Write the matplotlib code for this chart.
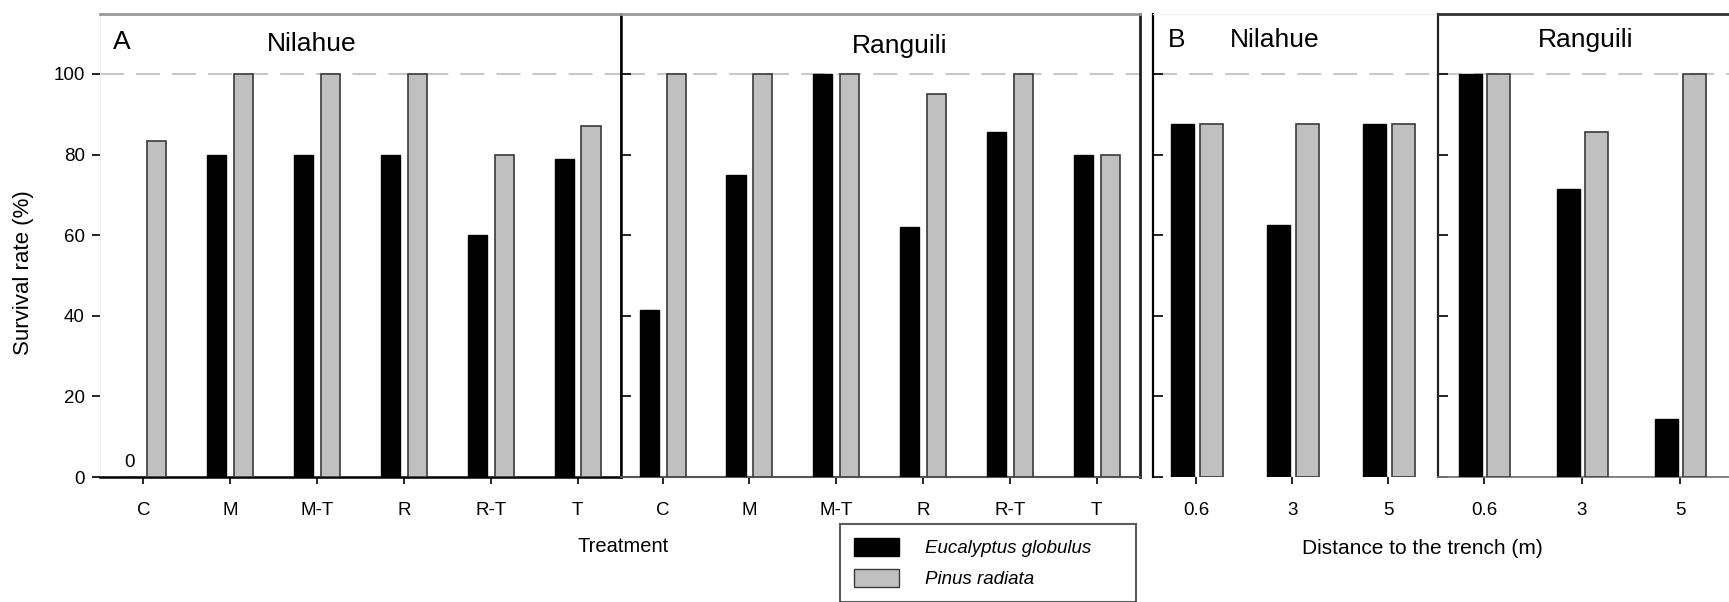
import matplotlib
matplotlib.use("Agg")
import matplotlib.pyplot as plt
from matplotlib.patches import Patch
import numpy as np

plt.rcParams['font.family'] = ['Liberation Sans', 'DejaVu Sans']

# ---------------- data ----------------
treatments = ["C", "M", "M-T", "R", "R-T", "T"]
distances = ["0.6", "3", "5"]

nil_trt_euc = [0, 80, 80, 80, 60, 79]
nil_trt_pin = [83.3, 100, 100, 100, 80, 87]
ran_trt_euc = [41.5, 75, 100, 62, 85.7, 80]
ran_trt_pin = [100, 100, 100, 95, 100, 80]

nil_dist_euc = [87.5, 62.5, 87.5]
nil_dist_pin = [87.5, 87.5, 87.5]
ran_dist_euc = [100, 71.4, 14.3]
ran_dist_pin = [100, 85.7, 100]

yticks = [0, 20, 40, 60, 80, 100]
species = ["Eucalyptus globulus", "Pinus radiata"]

# ---------------- layout ----------------
W, H = 1729, 602
fig = plt.figure(figsize=(W / 100, H / 100), dpi=100)
Y0, Y1 = 477, 13.5


def make_ax(x0, x1):
    return fig.add_axes([x0 / W, 1 - Y0 / H, (x1 - x0) / W, (Y0 - Y1) / H])


BLACK = "black"
GREY = "#c0c0c0"
PEDGE = "#3a3a3a"
TICK_FS = 13.5


def draw(ax, cats, euc, pin, off_e, off_p, width):
    x = np.arange(len(cats))
    ax.bar(x + off_e, euc, width, color=BLACK, edgecolor=BLACK, linewidth=1.0, zorder=3)
    ax.bar(x + off_p, pin, width, color=GREY, edgecolor=PEDGE, linewidth=1.2, zorder=3)
    ax.set_xticks(x)
    ax.set_xticklabels(cats)
    ax.set_ylim(0, 115)
    ax.set_yticks(yticks)
    ax.axhline(100, color="#c8c8c8", lw=1.5, ls=(0, (11.5, 5.8)), zorder=1)
    ax.tick_params(axis="x", direction="out", length=5, width=1.2, labelsize=TICK_FS, pad=13)
    return x


axA1 = make_ax(100, 621)
axA2 = make_ax(621, 1140)
axB1 = make_ax(1153, 1438)
axB2 = make_ax(1438, 1729)

draw(axA1, treatments, nil_trt_euc, nil_trt_pin, -0.155, 0.155, 0.22)
axA1.set_xlim(-0.5, 5.5)
draw(axA2, treatments, ran_trt_euc, ran_trt_pin, -0.155, 0.155, 0.22)
axA2.set_xlim(-0.48, 5.5)
draw(axB1, distances, nil_dist_euc, nil_dist_pin, -0.14, 0.16, 0.24)
axB1.set_xlim(-0.45, 2.52)
draw(axB2, distances, ran_dist_euc, ran_dist_pin, -0.14, 0.15, 0.23)
axB2.set_xlim(-0.47, 2.5)

# y-axis of the first panel
axA1.tick_params(axis="y", direction="out", length=6, width=1.2, labelsize=TICK_FS, pad=5)
for a in (axA2, axB1, axB2):
    a.tick_params(axis="y", direction="in", length=7, width=1.2, labelleft=False)

# spines
axA1.spines["left"].set_color("#ececec"); axA1.spines["left"].set_linewidth(0.8)
axA1.spines["top"].set_color("#9a9a9a"); axA1.spines["top"].set_linewidth(2)
axA1.spines["right"].set_color(BLACK); axA1.spines["right"].set_linewidth(1.8)
axA1.spines["bottom"].set_color(BLACK); axA1.spines["bottom"].set_linewidth(1.8)

axA2.spines["left"].set_color(BLACK); axA2.spines["left"].set_linewidth(1.8)
axA2.spines["top"].set_color("#9a9a9a"); axA2.spines["top"].set_linewidth(2)
axA2.spines["right"].set_color("#222222"); axA2.spines["right"].set_linewidth(2)
axA2.spines["bottom"].set_color("#555555"); axA2.spines["bottom"].set_linewidth(1.5)

axB1.spines["left"].set_color(BLACK); axB1.spines["left"].set_linewidth(1.6)
axB1.spines["top"].set_color("#f0f0f0"); axB1.spines["top"].set_linewidth(1)
axB1.spines["right"].set_visible(False)
axB1.spines["bottom"].set_visible(False)

axB2.spines["left"].set_color("#222222"); axB2.spines["left"].set_linewidth(1.6)
axB2.spines["top"].set_color("#333333"); axB2.spines["top"].set_linewidth(2)
axB2.spines["bottom"].set_color("#777777"); axB2.spines["bottom"].set_linewidth(1.3)
axB2.spines["right"].set_visible(False)

# zero label on the missing bar
axA1.text(-0.155, 1.5, "0", ha="center", va="bottom", fontsize=TICK_FS)

# panel letters and site titles (figure pixel coords)
def ftext(x, y, s, **kw):
    fig.text(x / W, 1 - y / H, s, **kw)

TITLE_FS = 19
ftext(113, 42, "A", fontsize=TITLE_FS, ha="left", va="center")
ftext(312, 44, "Nilahue", fontsize=TITLE_FS, ha="center", va="center")
ftext(900, 46, "Ranguili", fontsize=TITLE_FS, ha="center", va="center")
ftext(1168, 40, "B", fontsize=TITLE_FS, ha="left", va="center")
ftext(1275, 40, "Nilahue", fontsize=TITLE_FS, ha="center", va="center")
ftext(1586, 40, "Ranguili", fontsize=TITLE_FS, ha="center", va="center")

ftext(623, 546, "Treatment", fontsize=14.5, ha="center", va="center")
ftext(1422, 548, "Distance to the trench (m)", fontsize=15, ha="center", va="center")
ftext(24, 273, "Survival rate (%)", fontsize=16, ha="center", va="center", rotation=90)

# legend
handles = [Patch(facecolor=BLACK, edgecolor=BLACK),
           Patch(facecolor=GREY, edgecolor=PEDGE)]
leg_h = 80
leg = fig.legend(handles, species, loc="upper left", mode="expand",
                 bbox_to_anchor=(840 / W, 1 - (524 + leg_h) / H, 296 / W, leg_h / H),
                 bbox_transform=fig.transFigure,
                 frameon=True, fancybox=False, borderaxespad=0, borderpad=0.75,
                 handlelength=2.4, handleheight=1.1, handletextpad=1.4,
                 labelspacing=0.6, prop={"size": 13.5, "style": "italic"})
leg.get_frame().set_edgecolor("#333333")
leg.get_frame().set_linewidth(1.5)

fig.savefig("out.png", dpi=100)
